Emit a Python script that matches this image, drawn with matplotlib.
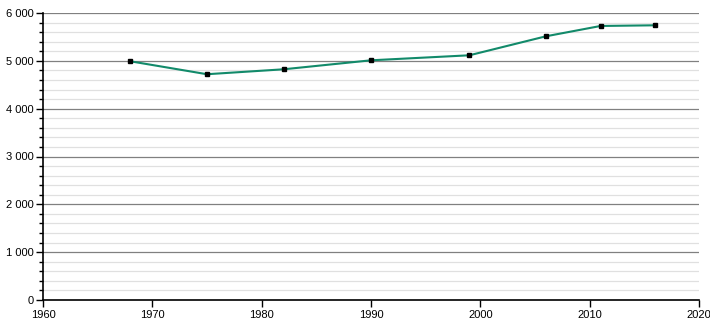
import matplotlib.pyplot as plt
from matplotlib.ticker import MultipleLocator, FuncFormatter

plt.rcParams['font.family'] = ['Liberation Sans', 'DejaVu Sans']

years = [1968, 1975, 1982, 1990, 1999, 2006, 2011, 2016]
population = [4990, 4720, 4823, 5011, 5116, 5513, 5729, 5743]

fig = plt.figure(figsize=(7.1, 3.2), dpi=100)
ax = fig.add_axes([43 / 710, 20 / 320, 656 / 710, 287 / 320])

ax.plot(years, population, color='#128a6a', linewidth=1.5, zorder=3)
ax.plot(years, population, linestyle='none', marker='s', markersize=3.5,
        color='black', zorder=4)

ax.set_xlim(1960, 2020)
ax.set_ylim(0, 6000)
ax.xaxis.set_major_locator(MultipleLocator(10))
ax.yaxis.set_major_locator(MultipleLocator(1000))
ax.yaxis.set_minor_locator(MultipleLocator(200))
ax.yaxis.set_major_formatter(FuncFormatter(lambda v, p: f'{int(v):,}'.replace(',', ' ')))

ax.grid(axis='y', which='major', color='#808080', linewidth=0.9, zorder=1)
ax.grid(axis='y', which='minor', color='#e0e0e0', linewidth=0.9, zorder=1)

for side in ['top', 'right']:
    ax.spines[side].set_visible(False)
for side in ['left', 'bottom']:
    ax.spines[side].set_linewidth(1.2)
    ax.spines[side].set_color('black')

ax.tick_params(axis='both', which='major', labelsize=8, length=5, width=1)
ax.tick_params(axis='y', which='minor', length=3, width=1)
ax.tick_params(axis='x', pad=2)
ax.tick_params(axis='y', pad=2)

fig.savefig('out.png', dpi=100)
